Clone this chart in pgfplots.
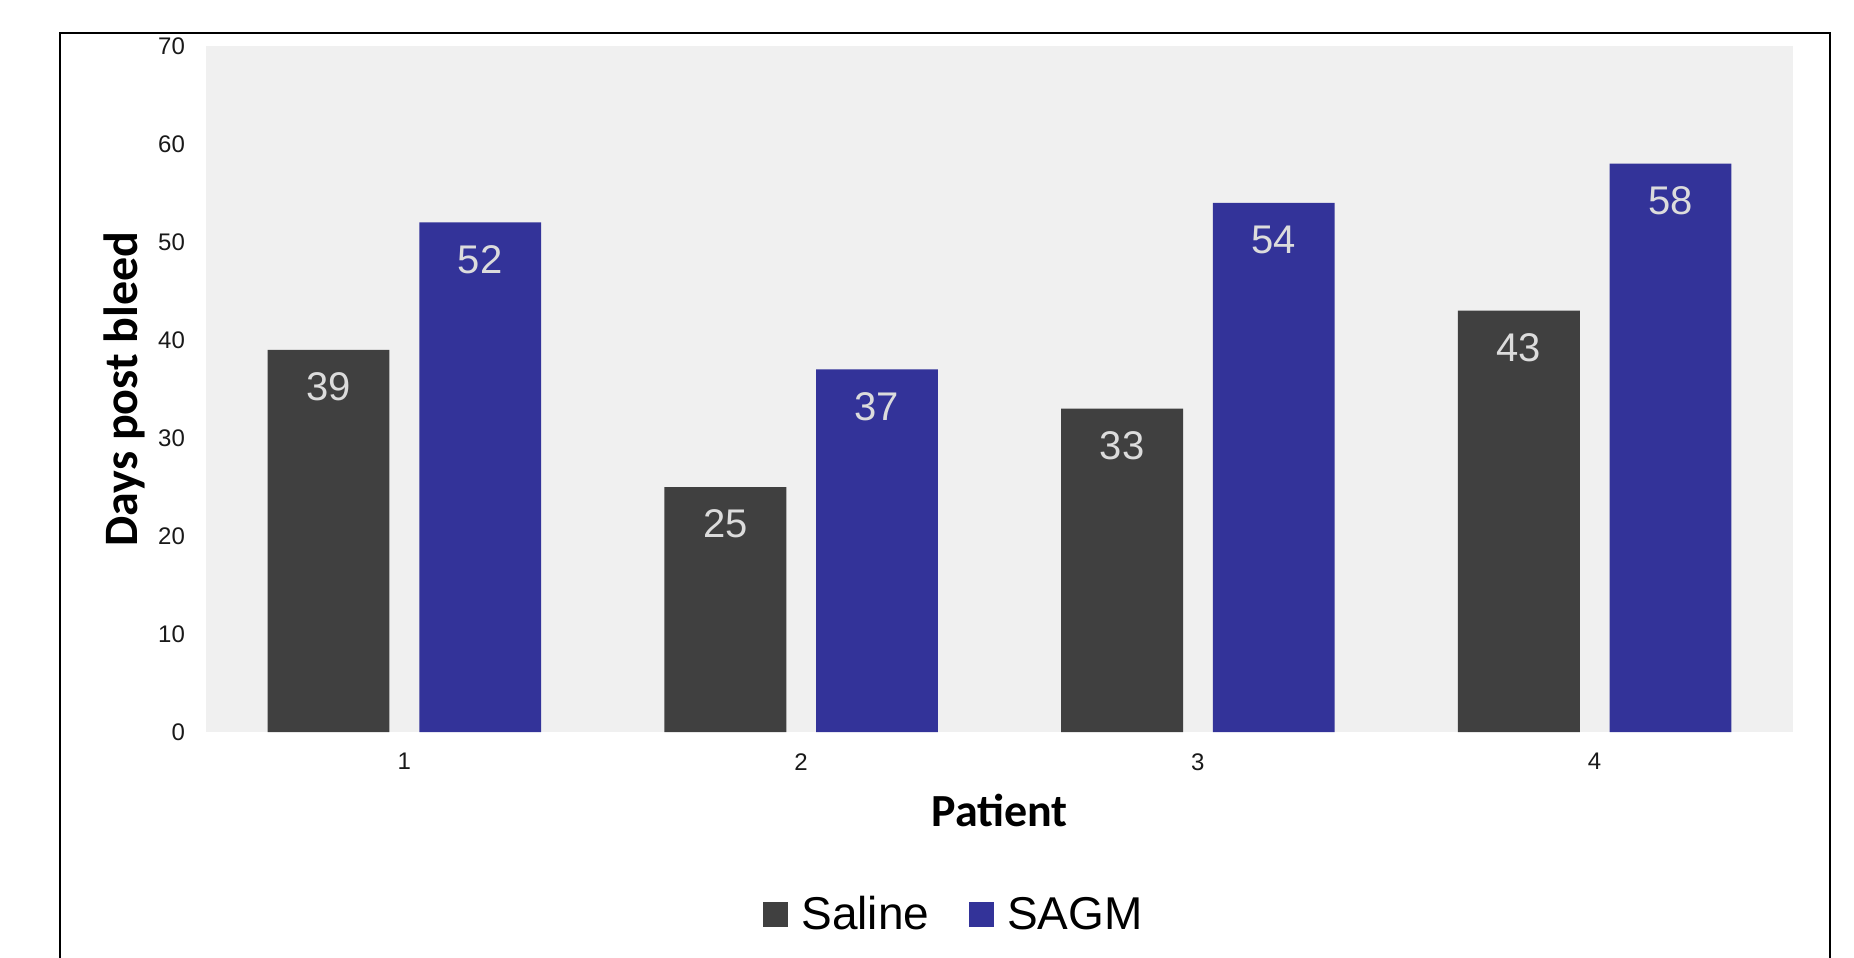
\documentclass[border=0pt]{standalone}
\usepackage{pgfplots}
\pgfplotsset{compat=1.18}
\usepackage{fontspec}
\setmainfont{Liberation Sans}
\newfontfamily\calibri{Carlito}
\definecolor{saline}{HTML}{404040}
\definecolor{sagm}{HTML}{333399}
\definecolor{bg}{HTML}{F0F0F0}
\definecolor{lbl}{HTML}{DCDCDC}
\begin{document}
\begin{tikzpicture}
\useasboundingbox (0,0) rectangle (927pt,479pt);
\draw[line width=1.1pt] (30pt,-2pt) -- (30pt,462.5pt) -- (915pt,462.5pt) -- (915pt,-2pt);
\begin{axis}[
  at={(103pt,112.9pt)}, anchor=south west,
  scale only axis, width=793.5pt, height=343.1pt,
  xmin=0.5, xmax=4.5, ymin=0, ymax=70,
  axis background/.style={fill=bg},
  axis line style={draw=none},
  major tick length=0pt,
  xtick={1,2,3,4}, ytick={0,10,...,70},
  /pgf/number format/assume math mode=true,
  ticklabel style={font=\fontsize{12}{14}\selectfont, text=black!90},
  yticklabel style={xshift=-7pt},
  xticklabel style={yshift=-7pt},
  xlabel={\calibri\bfseries Patient},
  ylabel={\calibri\bfseries Days post bleed},
  xlabel style={at={(axis description cs:0.5,-0.114)}, anchor=center, font=\fontsize{23}{26}\selectfont},
  ylabel style={at={(axis description cs:-0.0517,0.5)}, anchor=center, rotate=0, font=\fontsize{24}{27}\selectfont},
  ybar, bar width=0.307,
  nodes near coords,
  every node near coord/.append style={anchor=center, yshift=-18.5pt, font=\fontsize{20}{22}\selectfont, text=lbl},
  legend style={at={(0.472,-0.266)}, anchor=center, draw=none, fill=none, legend columns=2,
    font=\fontsize{23}{26}\selectfont,
    /tikz/every even column/.append style={column sep=18pt}},
  legend image code/.code={\fill[#1] (0pt,-6.25pt) rectangle (12.5pt,6.25pt); \path (17pt,0pt);},
]
\addplot[fill=saline, draw=none, bar shift=-0.191] coordinates {(1,39) (2,25) (3,33) (4,43)};
\addplot[fill=sagm, draw=none, bar shift=0.191] coordinates {(1,52) (2,37) (3,54) (4,58)};
\legend{Saline, SAGM}
\end{axis}
\end{tikzpicture}
\end{document}
